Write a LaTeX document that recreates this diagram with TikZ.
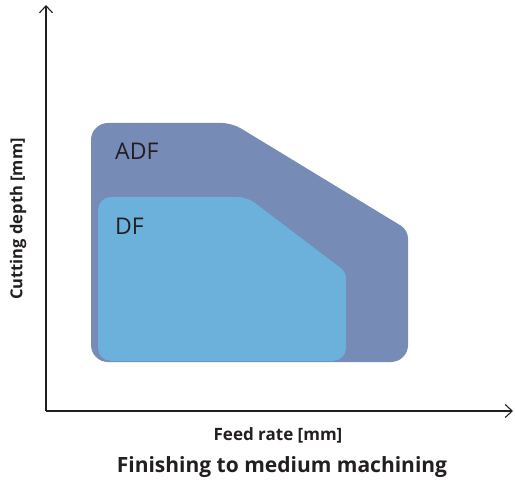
\documentclass[tikz,border=0pt]{standalone}
\usepackage{fontspec}
\setmainfont{Open Sans}
\usetikzlibrary{arrows.meta}
\definecolor{adfc}{HTML}{768BB6}
\definecolor{dfc}{HTML}{6BB1DC}
\definecolor{txt}{HTML}{231F20}
\tikzset{
  axis/.style={line width=1.2pt, draw=txt, -{Straight Barb[length=7pt,width=13pt,line width=1.1pt]}},
  lbl/.style={font=\fontsize{17}{19}\selectfont\bfseries, text=txt, inner sep=0pt},
  zone/.style={font=\fontsize{23}{26}\selectfont, text=txt, inner sep=0pt, anchor=west},
}
\begin{document}
\begin{tikzpicture}[x=1pt,y=-1pt]
\useasboundingbox (0,0) rectangle (515,487);
\coordinate (O) at (46,411);
\coordinate (Ytip) at (46,5);
\coordinate (Xtip) at (513,411);
% ADF region
\fill[adfc] (250,362) [rounded corners=17pt] -- (91,362) -- (91,123) [rounded corners=10pt] -- (232,123) [rounded corners=8pt] -- (408,230) [rounded corners=17pt] -- (408,362) -- cycle;
% DF region
\fill[dfc] (220,361) [rounded corners=13pt] -- (98,361) -- (98,197) [rounded corners=9pt] -- (247,197) [rounded corners=6pt] -- (346,272) [rounded corners=13pt] -- (346,361) -- cycle;
\node[zone] (adf) at (115,151) {ADF};
\node[zone] (df) at (115,226) {DF};
% axes
\draw[axis] (O) -- (Ytip);
\draw[axis] (O) -- (Xtip);
\node[lbl, font=\fontsize{16.5}{19}\selectfont\bfseries] (ylab) at (18,219) [rotate=90] {Cutting depth [mm]};
\node[lbl] (xlab) at (278,435) {Feed rate [mm]};
\node[lbl, font=\fontsize{21}{24}\selectfont\bfseries] (title) at (282,467) {Finishing to medium machining};
\end{tikzpicture}
\end{document}
